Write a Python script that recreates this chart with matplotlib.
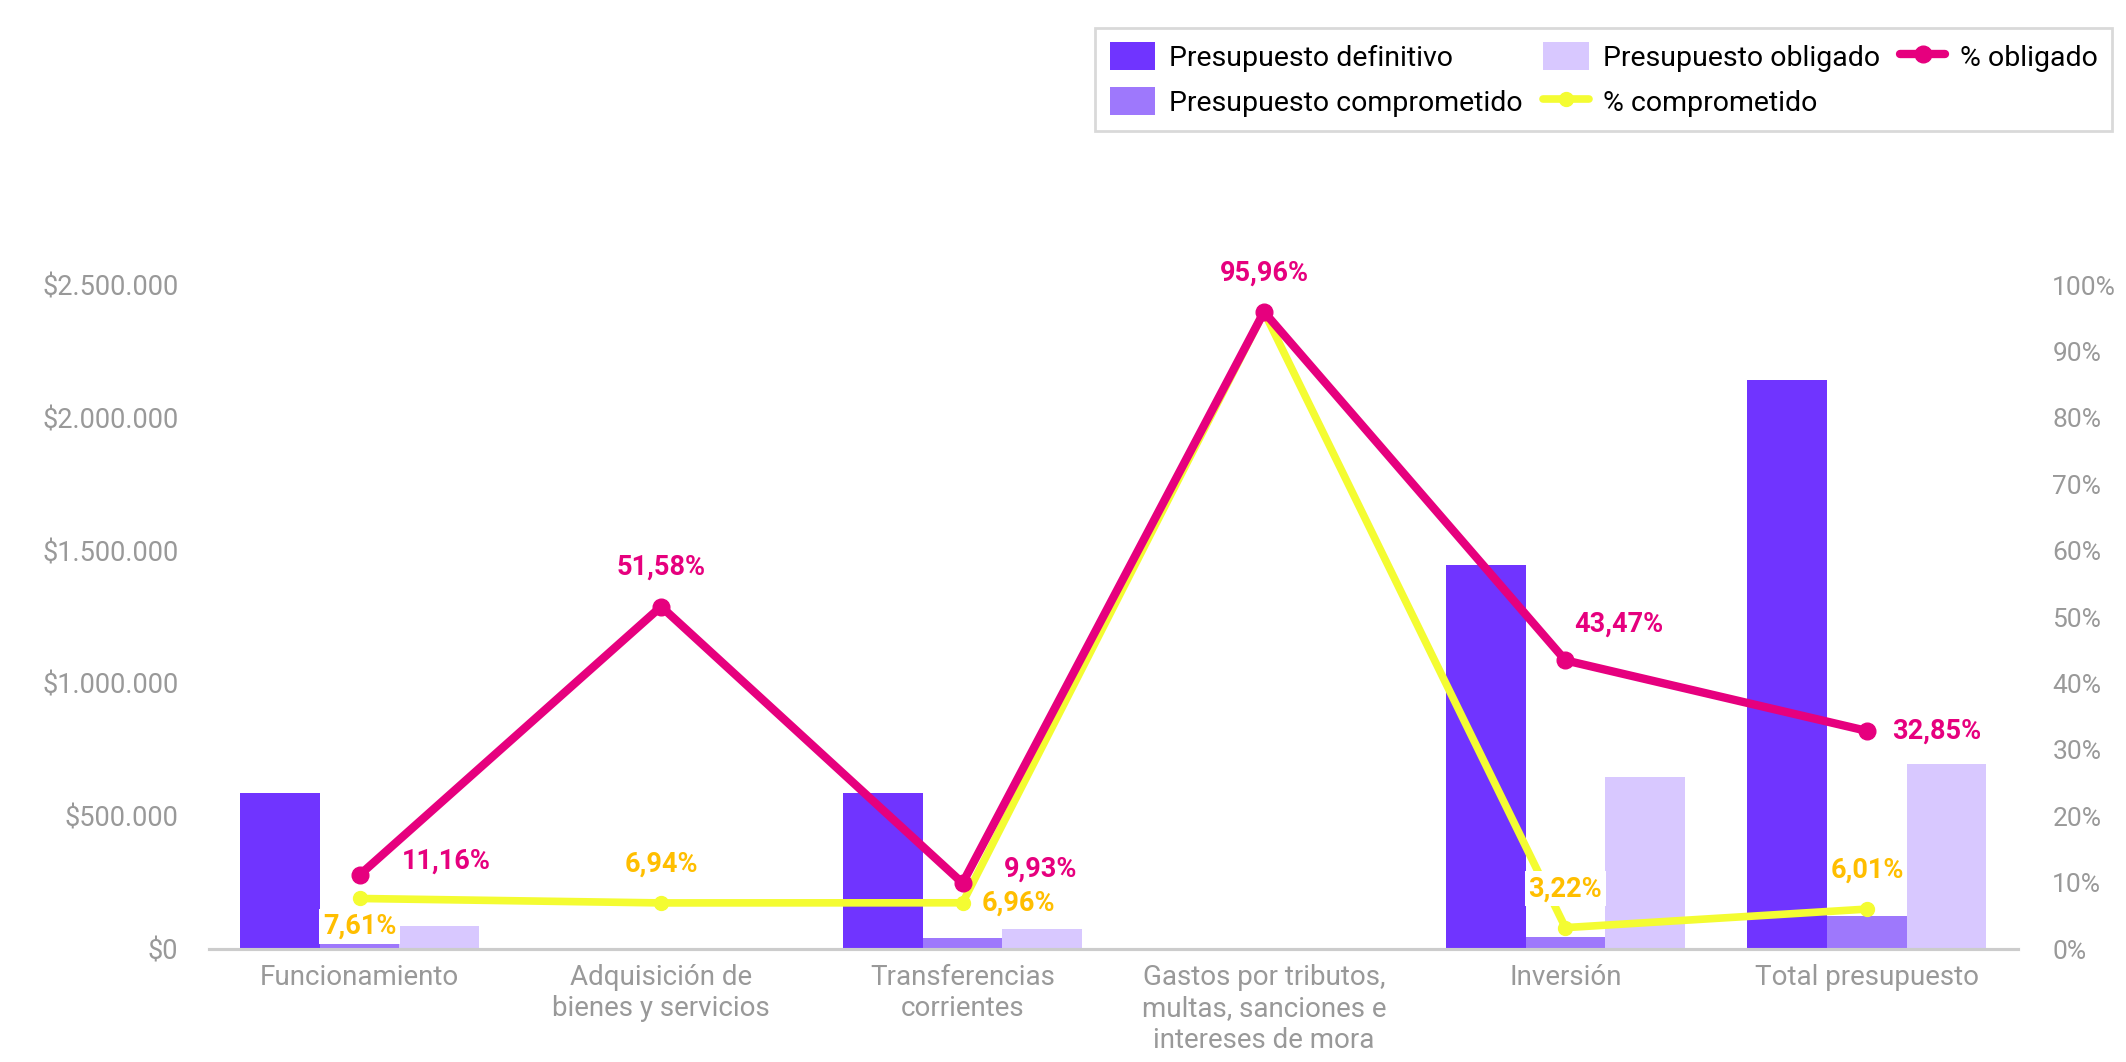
import matplotlib
matplotlib.use("Agg")
import matplotlib.pyplot as plt
import numpy as np

plt.rcParams['font.family'] = ['Roboto', 'DejaVu Sans']

categorias = ['Funcionamiento', 'Adquisición de\nbienes y servicios', 'Transferencias\ncorrientes',
              'Gastos por tributos,\nmultas, sanciones e\nintereses de mora', 'Inversión', 'Total presupuesto']
definitivo = [587000, 0, 587000, 0, 1444000, 2143000]
comprometido = [44000, 0, 41000, 0, 45000, 126000]
obligado = [86000, 0, 76000, 0, 646000, 698000]
pct_obligado = [11.16, 51.58, 9.93, 95.96, 43.47, 32.85]
pct_comprometido = [7.61, 6.94, 6.96, 95.96, 3.22, 6.01]

C_DEF = '#7034FF'
C_COM = '#9E78FC'
C_OBL = '#D8C8FF'
C_POBL = '#E6007E'
C_PCOM = '#F4FC32'
C_PCOM_TXT = '#FFBE00'
GRIS = '#999999'

fig = plt.figure(figsize=(21.26, 10.62), dpi=100)
ax = fig.add_axes([0.0983, 0.1064, 0.8507, 0.6252])
ax2 = ax.twinx()

x = np.arange(len(categorias))
w = 0.264
ax.bar(x - w, definitivo, w, color=C_DEF, label='Presupuesto definitivo', zorder=2)
ax.bar(x, comprometido, w, color=C_COM, label='Presupuesto comprometido', zorder=2)
ax.bar(x + w, obligado, w, color=C_OBL, label='Presupuesto obligado', zorder=2)

ax.set_xlim(-0.5, len(categorias) - 0.5)
ax.set_ylim(0, 2500000)
ax.set_yticks(np.arange(0, 2500001, 500000))
ax.set_yticklabels(['$' + f'{v:,.0f}'.replace(',', '.') for v in np.arange(0, 2500001, 500000)])
ax.set_xticks(x)
ax.set_xticklabels(categorias, linespacing=1.2)
ax.tick_params(axis='y', length=0, pad=22, labelsize=19.5, labelcolor=GRIS)
ax.tick_params(axis='x', length=0, pad=11, labelsize=20, labelcolor=GRIS)

for a in (ax, ax2):
    for s in ('top', 'right', 'left'):
        a.spines[s].set_visible(False)
    a.spines['bottom'].set_color('#cccccc')
    a.spines['bottom'].set_linewidth(2.2)

ax2.set_ylim(0, 100)
ax2.set_yticks(np.arange(0, 101, 10))
ax2.set_yticklabels([f'{v}%' for v in range(0, 101, 10)])
ax2.tick_params(axis='y', length=0, pad=25, labelsize=19, labelcolor=GRIS)

ax2.plot(x, pct_comprometido, color=C_PCOM, lw=5.5, marker='o', ms=10,
         label='% comprometido', zorder=3, solid_capstyle='round')
ax2.plot(x, pct_obligado, color=C_POBL, lw=6, marker='o', ms=12,
         label='% obligado', zorder=4, solid_capstyle='round')

def fmt(v):
    return f'{v:.2f}%'.replace('.', ',')

# offsets in points: (dx, dy, ha)
off_obl = [(30, 10, 'left'), (0, 28, 'center'), (30, 10, 'left'),
           (0, 28, 'center'), (6, 26, 'left'), (18, 0, 'left')]
off_com = [(0, -20, 'center'), (0, 28, 'center'), (14, 0, 'left'),
           None, (0, 28, 'center'), (0, 28, 'center')]
caja_com = [True, False, False, False, True, False]

for i, v in enumerate(pct_obligado):
    dx, dy, ha = off_obl[i]
    ax2.annotate(fmt(v), (x[i], v), xytext=(dx, dy), textcoords='offset points',
                 ha=ha, va='center', fontsize=19.5, fontweight='bold', color=C_POBL, zorder=6)
for i, v in enumerate(pct_comprometido):
    if off_com[i] is None:
        continue
    dx, dy, ha = off_com[i]
    bbox = dict(boxstyle='square,pad=0.15', fc='white', ec='none') if caja_com[i] else None
    ax2.annotate(fmt(v), (x[i], v), xytext=(dx, dy), textcoords='offset points',
                 ha=ha, va='center', fontsize=19.5, fontweight='bold', color=C_PCOM_TXT,
                 bbox=bbox, zorder=5)

h1, l1 = ax.get_legend_handles_labels()
h2, l2 = ax2.get_legend_handles_labels()
handles = h1 + h2
labels = l1 + l2
leg = fig.legend(handles, labels, loc='upper right', bbox_to_anchor=(1.0, 0.987), ncol=3,
                 fontsize=20.5, frameon=True, fancybox=False, edgecolor='#d0d0d0',
                 handlelength=1.6, handleheight=1.1, labelspacing=0.55, columnspacing=0.7,
                 handletextpad=0.5, borderpad=0.5)
leg.get_frame().set_linewidth(2)

fig.savefig('out.png', dpi=100)
